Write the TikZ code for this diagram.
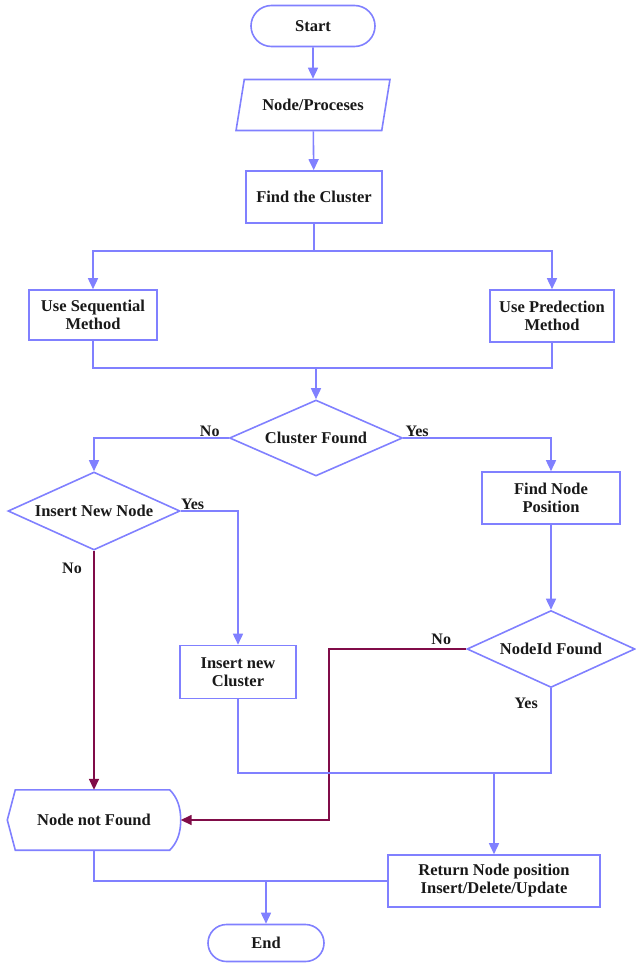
\documentclass[tikz,border=0pt]{standalone}
\usepackage{fontspec}
\setmainfont{Liberation Serif}
\usetikzlibrary{arrows.meta,positioning,shapes.geometric,shapes.misc,calc}
\definecolor{flowblue}{RGB}{128,128,255}
\definecolor{wine}{RGB}{128,12,72}

\begin{document}
\begin{tikzpicture}[x=1pt,y=-1pt,
    every node/.style={font=\fontsize{16.5}{18}\selectfont\bfseries,align=center,text=black!90},
    proc/.style={draw=flowblue,line width=1.6pt,rectangle,inner sep=2pt},
    term/.style={draw=flowblue,line width=1.6pt,rounded rectangle,inner sep=2pt},
    io/.style={draw=flowblue,line width=1.6pt,trapezium,trapezium left angle=68,
      trapezium right angle=112,trapezium stretches=true,inner sep=2pt},
    dec/.style={draw=flowblue,line width=1.6pt,diamond,aspect=2.3,inner sep=0pt},
    flow/.style={draw=flowblue,line width=1.6pt},
    flowarr/.style={flow,-{Triangle[length=11pt,width=10pt]}},
    noarr/.style={draw=wine,line width=1.6pt,-{Triangle[length=11pt,width=10pt]}},
    lbl/.style={font=\fontsize{16}{18}\selectfont\bfseries,inner sep=1pt}]
  \useasboundingbox (0,0) rectangle (635,966);
  % blocks
  \node[term,minimum width=128pt,minimum height=41pt] (start) at (313,26) {Start};
  \node[io,minimum width=154pt,minimum height=51pt] (input) at (313,105) {Node/Proceses};
  \node[proc,minimum width=136pt,minimum height=52pt] (find) at (314,197) {Find the Cluster};
  \node[proc,minimum width=128pt,minimum height=50pt] (seq) at (93,315) {Use Sequential\\Method};
  \node[proc,minimum width=124pt,minimum height=52pt] (pred) at (552,316) {Use Predection\\Method};
  \node[dec,minimum width=173pt,minimum height=76pt] (found) at (316,438) {Cluster Found};
  \node[dec,minimum width=172pt,minimum height=78pt] (newnode) at (94,511) {Insert New Node};
  \node[proc,minimum width=138pt,minimum height=52pt] (pos) at (551,498) {Find Node\\Position};
  \node[dec,minimum width=168pt,minimum height=77pt] (idfound) at (551,649) {NodeId Found};
  \node[proc,minimum width=116pt,minimum height=53pt] (cluster) at (238,672) {Insert new\\Cluster};
  \node[minimum width=173pt,minimum height=60pt] (notfound) at (94,820) {Node not Found};
  \node[proc,minimum width=212pt,minimum height=52pt] (ret) at (494,881) {Return Node position\\Insert/Delete/Update};
  \node[term,minimum width=120pt,minimum height=37pt] (end) at (266,943) {End};
  % display shape round "Node not Found"
  \draw[flow] (notfound.west) -- ($(notfound.north west)+(8,0)$)
    -- ($(notfound.north east)+(-11,0)$)
    .. controls ($(notfound.north east)+(-3,8)$) and ($(notfound.east)+(0,-12)$) .. (notfound.east)
    .. controls ($(notfound.east)+(0,12)$) and ($(notfound.south east)+(-3,-8)$) .. ($(notfound.south east)+(-11,0)$)
    -- ($(notfound.south west)+(8,0)$) -- cycle;
  % connectors
  \coordinate (split) at ($(find.south)+(0,27)$);
  \coordinate (merge) at (316,368);
  \path (idfound.west) ++(-137,0) coordinate (bend);
  \coordinate (join) at (494,773);
  \coordinate (tail) at (end.north |- ret.west);
  \draw[flowarr] (start) -- (input);
  \draw[flowarr] (input) -- (find);
  \draw[flowarr] (find.south) -- (split) -| (seq.north);
  \draw[flowarr] (split) -| (pred.north);
  \draw[flow] (seq.south) |- (merge) -| (pred.south);
  \draw[flowarr] (merge) -- (found.north);
  \draw[flowarr] (found.west) -| (newnode.north);
  \draw[flowarr] (found.east) -| (pos.north);
  \draw[flowarr] (newnode.east) -| (cluster.north);
  \draw[noarr] (newnode.south) -- (notfound.north);
  \draw[flowarr] (pos) -- (idfound);
  \draw[noarr] (idfound.west) -- (bend) |- (notfound.east);
  \draw[flow] (cluster.south) |- (join) -| (idfound.south);
  \draw[flowarr] (join) -- (ret.north);
  \draw[flow] (notfound.south) |- (ret.west);
  \draw[flowarr] (tail) -- (end);
  % branch labels
  \node[lbl,anchor=south east] (no1) at ($(found.west)+(-8,0)$) {No};
  \node[lbl,anchor=south west] (yes1) at ($(found.east)+(1,0)$) {Yes};
  \node[lbl,anchor=south west] (yes2) at ($(newnode.east)+(-1,0)$) {Yes};
  \node[lbl,anchor=north east] (no2) at ($(newnode.south)+(-11,11)$) {No};
  \node[lbl,anchor=south east] (no3) at ($(idfound.west)+(-14,-3)$) {No};
  \node[lbl,anchor=north east] (yes3) at ($(idfound.south)+(-12,9)$) {Yes};
\end{tikzpicture}
\end{document}
